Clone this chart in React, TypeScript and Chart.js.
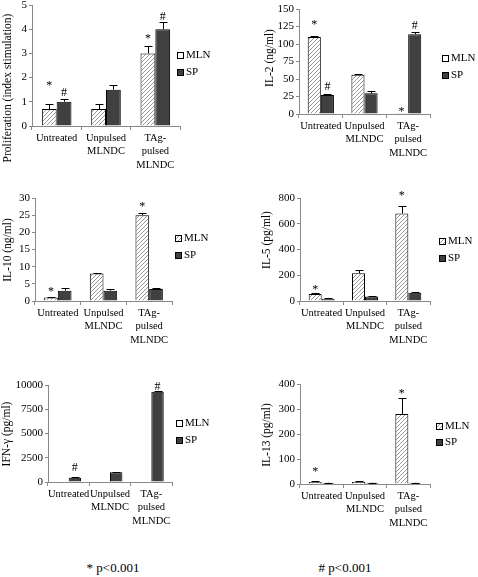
import React, { useEffect, useRef } from 'react';
import { Chart, registerables } from 'chart.js';

Chart.register(...registerables);

// ---------- DATA ----------
const categories: (string | string[])[] = ['Untreated', ['Unpulsed', 'MLNDC'], ['TAg-', 'pulsed', 'MLNDC']];
const seriesNames = ['MLN', 'SP'];

// Proliferation (index stimulation)
const prolifMLN = [0.7, 0.7, 3.0];
const prolifMLNErr = [0.2, 0.2, 0.3];
const prolifSP = [1.0, 1.5, 4.0];
const prolifSPErr = [0.12, 0.2, 0.28];
const prolifMarks = [
  { cat: 0, series: 0, sym: '*', level: 1.8 },
  { cat: 0, series: 1, sym: '#', level: 1.4 },
  { cat: 2, series: 0, sym: '*', level: 3.75 },
  { cat: 2, series: 1, sym: '#', level: 4.55 },
];

// IL-2 (ng/ml)
const il2MLN = [110, 56, 0.5];
const il2MLNErr = [1.5, 1, 0];
const il2SP = [27, 29.5, 114];
const il2SPErr = [1.5, 3, 3.5];
const il2Marks = [
  { cat: 0, series: 0, sym: '*', level: 133 },
  { cat: 0, series: 1, sym: '#', level: 40 },
  { cat: 2, series: 0, sym: '*', level: 8.6 },
  { cat: 2, series: 1, sym: '#', level: 128 },
];

// IL-10 (ng/ml)
const il10MLN = [1.0, 8.0, 25.0];
const il10MLNErr = [0.2, 0.2, 0.5];
const il10SP = [3.0, 3.0, 3.5];
const il10SPErr = [0.8, 0.6, 0.4];
const il10Marks = [
  { cat: 0, series: 0, sym: '*', level: 3.8 },
  { cat: 2, series: 0, sym: '*', level: 28.5 },
];

// IL-5 (pg/ml)
const il5MLN = [55, 215, 680];
const il5MLNErr = [8, 28, 56];
const il5SP = [18, 35, 65];
const il5SPErr = [2, 4, 2];
const il5Marks = [
  { cat: 0, series: 0, sym: '*', level: 116 },
  { cat: 2, series: 0, sym: '*', level: 845 },
];

// IFN-gamma (pg/ml)
const ifnMLN = [60, 60, 60];
const ifnMLNErr = [0, 0, 0];
const ifnSP = [450, 1000, 9300];
const ifnSPErr = [30, 80, 100];
const ifnMarks = [
  { cat: 0, series: 1, sym: '#', level: 1570 },
  { cat: 2, series: 1, sym: '#', level: 9900 },
];

// IL-13 (pg/ml)
const il13MLN = [8, 8, 280];
const il13MLNErr = [3, 3, 65];
const il13SP = [5, 5, 5];
const il13SPErr = [1, 1, 1];
const il13Marks = [
  { cat: 0, series: 0, sym: '*', level: 64 },
  { cat: 2, series: 0, sym: '*', level: 373 },
];

const footnotes = ['* p<0.001', '# p<0.001'];

// ---------- LAYOUT ----------
type Mark = { cat: number; series: number; sym: string; level: number };
type PanelCfg = {
  yTitle: string;
  yMax: number;
  yStep: number;
  mln: number[];
  mlnErr: number[];
  sp: number[];
  spErr: number[];
  marks: Mark[];
  canvas: [number, number, number, number];
  plot: [number, number, number, number];
  titlePos: [number, number];
  legend: [number, number, number];
  legendHatch: boolean;
};

const FONT = 'Liberation Serif';

const panels: PanelCfg[] = [
  {
    yTitle: 'Proliferation (index stimulation)', yMax: 5, yStep: 1,
    mln: prolifMLN, mlnErr: prolifMLNErr, sp: prolifSP, spErr: prolifSPErr, marks: prolifMarks,
    canvas: [0, 0, 239, 180], plot: [32, 5, 180, 126], titlePos: [8, 88], legend: [177, 55, 72], legendHatch: false,
  },
  {
    yTitle: 'IL-2 (ng/ml)', yMax: 150, yStep: 25,
    mln: il2MLN, mlnErr: il2MLNErr, sp: il2SP, spErr: il2SPErr, marks: il2Marks,
    canvas: [240, 0, 238, 180], plot: [299, 9, 430, 114], titlePos: [270, 58], legend: [442, 58, 75], legendHatch: false,
  },
  {
    yTitle: 'IL-10 (ng/ml)', yMax: 30, yStep: 5,
    mln: il10MLN, mlnErr: il10MLNErr, sp: il10SP, spErr: il10SPErr, marks: il10Marks,
    canvas: [0, 175, 239, 185], plot: [35, 198, 172, 301], titlePos: [8, 250], legend: [175, 238, 255], legendHatch: true,
  },
  {
    yTitle: 'IL-5 (pg/ml)', yMax: 800, yStep: 200,
    mln: il5MLN, mlnErr: il5MLNErr, sp: il5SP, spErr: il5SPErr, marks: il5Marks,
    canvas: [240, 175, 238, 185], plot: [300, 198, 430, 301], titlePos: [267, 240], legend: [439, 241, 258], legendHatch: true,
  },
  {
    yTitle: 'IFN-\u03b3 (pg/ml)', yMax: 10000, yStep: 2500,
    mln: ifnMLN, mlnErr: ifnMLNErr, sp: ifnSP, spErr: ifnSPErr, marks: ifnMarks,
    canvas: [0, 360, 239, 185], plot: [48, 385, 172, 482], titlePos: [7, 434], legend: [176, 423, 440], legendHatch: false,
  },
  {
    yTitle: 'IL-13 (pg/ml)', yMax: 400, yStep: 100,
    mln: il13MLN, mlnErr: il13MLNErr, sp: il13SP, spErr: il13SPErr, marks: il13Marks,
    canvas: [240, 360, 238, 185], plot: [300, 384, 430, 484], titlePos: [267, 435], legend: [436, 426, 442], legendHatch: true,
  },
];

const SP_COLOR = '#404040';
const AXIS_COLOR = '#8a8a8a';

function makeHatch(ctx: CanvasRenderingContext2D): CanvasPattern | string {
  const c = document.createElement('canvas');
  c.width = 4;
  c.height = 4;
  const g = c.getContext('2d');
  if (!g) return '#ddd';
  g.fillStyle = '#ffffff';
  g.fillRect(0, 0, 4, 4);
  g.strokeStyle = '#8c8c8c';
  g.lineWidth = 0.9;
  const seg = (x1: number, y1: number, x2: number, y2: number) => {
    g.beginPath();
    g.moveTo(x1, y1);
    g.lineTo(x2, y2);
    g.stroke();
  };
  seg(-1, 5, 5, -1);
  seg(-1, 1, 1, -1);
  seg(3, 5, 5, 3);
  return ctx.createPattern(c, 'repeat') || '#ddd';
}

function Panel({ cfg }: { cfg: PanelCfg }) {
  const ref = useRef<HTMLCanvasElement | null>(null);
  useEffect(() => {
    const canvas = ref.current;
    if (!canvas) return;
    const ctx = canvas.getContext('2d');
    if (!ctx) return;
    const [cx, cy, cw, ch] = cfg.canvas;
    const [L, T, R, B] = cfg.plot;
    const hatch = makeHatch(ctx);

    const overlay = {
      id: 'overlay',
      afterDraw(chart: any) {
        const c: CanvasRenderingContext2D = chart.ctx;
        const ys = chart.scales.y;
        c.save();
        // error bars (upper only, with cap)
        [0, 1].forEach((di) => {
          const meta = chart.getDatasetMeta(di);
          const vals = di === 0 ? cfg.mln : cfg.sp;
          const errs = di === 0 ? cfg.mlnErr : cfg.spErr;
          meta.data.forEach((el: any, j: number) => {
            if (!errs[j]) return;
            const x = Math.round(el.x) + 0.5;
            const y0 = el.y;
            const y1 = Math.round(ys.getPixelForValue(vals[j] + errs[j])) + 0.5;
            c.strokeStyle = '#000';
            c.lineWidth = 1;
            c.beginPath();
            c.moveTo(x, y0);
            c.lineTo(x, y1);
            c.moveTo(x - 4, y1);
            c.lineTo(x + 4, y1);
            c.stroke();
          });
        });
        // significance marks
        const fs = 12;
        c.font = `${fs}px "${FONT}"`;
        c.fillStyle = '#000';
        c.textAlign = 'center';
        c.textBaseline = 'alphabetic';
        cfg.marks.forEach((m) => {
          const el = chart.getDatasetMeta(m.series).data[m.cat];
          const yc = ys.getPixelForValue(m.level);
          const base = m.sym === '*' ? yc + 0.55 * fs : yc + 0.35 * fs;
          c.fillText(m.sym, el.x, base);
        });
        // y title
        c.save();
        c.translate(cfg.titlePos[0] - cx, cfg.titlePos[1] - cy);
        c.rotate(-Math.PI / 2);
        c.font = `11.5px "${FONT}"`;
        c.textAlign = 'center';
        c.textBaseline = 'middle';
        c.fillText(cfg.yTitle, 0, 0);
        c.restore();
        // legend
        const [bx, ly1, ly2] = cfg.legend;
        const box = 6;
        [ly1, ly2].forEach((ly, i) => {
          const x0 = bx - cx;
          const y0 = Math.round(ly - cy - box / 2);
          c.fillStyle = i === 0 ? (cfg.legendHatch ? (hatch as any) : '#fff') : SP_COLOR;
          c.fillRect(x0, y0, box, box);
          c.strokeStyle = '#000';
          c.lineWidth = 1;
          c.strokeRect(x0 + 0.5, y0 + 0.5, box, box);
          c.fillStyle = '#000';
          c.font = `11px "${FONT}"`;
          c.textAlign = 'left';
          c.textBaseline = 'middle';
          c.fillText(seriesNames[i], x0 + box + 3, ly - cy + 0.5);
        });
        c.restore();
      },
    };

    const chart = new Chart(ctx, {
      type: 'bar',
      data: {
        labels: categories as any,
        datasets: [
          {
            label: seriesNames[0],
            data: cfg.mln,
            backgroundColor: hatch as any,
            borderColor: '#000',
            borderWidth: 1,
            categoryPercentage: 0.6,
            barPercentage: 1.0,
          },
          {
            label: seriesNames[1],
            data: cfg.sp,
            backgroundColor: SP_COLOR,
            borderColor: '#000',
            borderWidth: 1,
            categoryPercentage: 0.6,
            barPercentage: 1.0,
          },
        ],
      },
      options: {
        responsive: false,
        animation: false,
        events: [],
        layout: { padding: { left: 0, top: T - cy, right: cx + cw - R, bottom: 0 } },
        plugins: { legend: { display: false }, tooltip: { enabled: false }, title: { display: false } },
        scales: {
          x: {
            type: 'category',
            offset: true,
            grid: { display: true, drawOnChartArea: false, drawTicks: true, tickLength: 4, color: AXIS_COLOR, offset: true },
            border: { display: true, color: AXIS_COLOR },
            ticks: { font: { family: FONT, size: 10.5, lineHeight: 1.25 }, color: '#000', padding: 2, maxRotation: 0, minRotation: 0, autoSkip: false },
            afterFit: (s: any) => {
              s.height = cy + ch - B;
              s.paddingLeft = 0;
              s.paddingRight = 0;
            },
          },
          y: {
            min: 0,
            max: cfg.yMax,
            ticks: { stepSize: cfg.yStep, font: { family: FONT, size: 11 }, color: '#000', padding: 2, callback: (v: any) => String(v) },
            grid: { display: true, drawOnChartArea: false, drawTicks: true, tickLength: 3, color: AXIS_COLOR },
            border: { display: true, color: AXIS_COLOR },
            afterFit: (s: any) => {
              s.width = L - cx;
              s.paddingTop = 0;
              s.paddingBottom = 0;
            },
          },
        },
      },
      plugins: [overlay],
    } as any);
    return () => chart.destroy();
  }, [cfg]);

  const [cx, cy, cw, ch] = cfg.canvas;
  return (
    <canvas
      ref={ref}
      width={cw}
      height={ch}
      style={{ position: 'absolute', left: cx, top: cy, width: cw, height: ch }}
    />
  );
}

export default function App() {
  return (
    <div style={{ position: 'fixed', left: 0, top: 0, width: 478, height: 577, background: '#fff', overflow: 'hidden' }}>
      {panels.map((p, i) => (
        <Panel key={i} cfg={p} />
      ))}
      <div style={{ position: 'absolute', left: 113, top: 568, transform: 'translate(-50%, -50%)', fontFamily: FONT, fontSize: 13, whiteSpace: 'nowrap', color: '#000' }}>
        {footnotes[0]}
      </div>
      <div style={{ position: 'absolute', left: 345, top: 568, transform: 'translate(-50%, -50%)', fontFamily: FONT, fontSize: 13, whiteSpace: 'nowrap', color: '#000' }}>
        {footnotes[1]}
      </div>
    </div>
  );
}
